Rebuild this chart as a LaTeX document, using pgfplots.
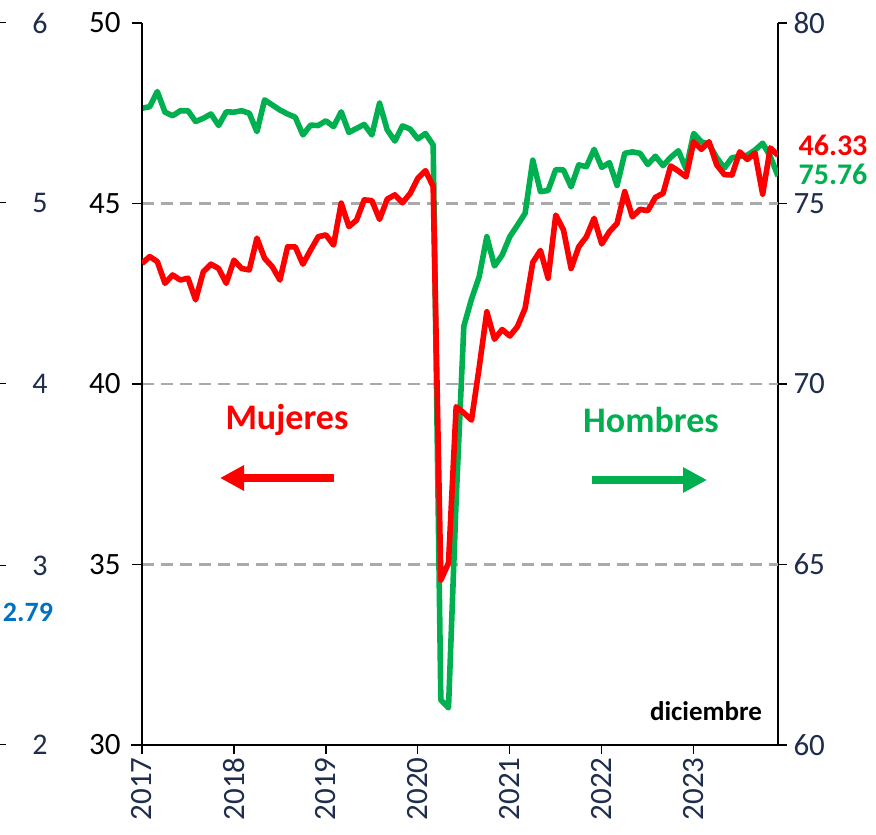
\documentclass[border=0pt]{standalone}
\usepackage{pgfplots}
\pgfplotsset{compat=1.18}
\usepackage{pgfplotstable}
\usepackage{fontspec}
\setmainfont{Carlito}
\usetikzlibrary{arrows.meta}
\definecolor{cred}{RGB}{255,0,0}
\definecolor{cgreen}{RGB}{0,176,80}
\definecolor{cnavy}{RGB}{31,45,77}
\definecolor{cblue}{RGB}{0,112,192}
\definecolor{cgrid}{RGB}{170,170,170}

\pgfplotstableread{
i m h
0 43.34 77.64
1 43.53 77.68
2 43.39 78.10
3 42.79 77.53
4 43.02 77.43
5 42.88 77.57
6 42.93 77.57
7 42.33 77.27
8 43.11 77.36
9 43.32 77.48
10 43.20 77.16
11 42.79 77.54
12 43.43 77.53
13 43.20 77.57
14 43.16 77.50
15 44.04 76.99
16 43.48 77.87
17 43.25 77.73
18 42.88 77.59
19 43.80 77.48
20 43.80 77.39
21 43.32 76.90
22 43.71 77.17
23 44.08 77.16
24 44.13 77.29
25 43.85 77.13
26 45.01 77.54
27 44.36 76.97
28 44.54 77.08
29 45.10 77.19
30 45.08 76.90
31 44.56 77.78
32 45.12 77.04
33 45.24 76.73
34 45.02 77.15
35 45.28 77.06
36 45.70 76.79
37 45.91 76.94
38 45.47 76.62
39 34.57 61.25
40 35.04 61.03
41 39.37 66.80
42 39.20 71.60
43 39.00 72.35
44 40.45 72.97
45 42.00 74.08
46 41.24 73.27
47 41.51 73.57
48 41.33 74.08
49 41.59 74.40
50 42.10 74.73
51 43.37 76.20
52 43.70 75.33
53 42.93 75.36
54 44.68 75.94
55 44.27 75.93
56 43.20 75.46
57 43.80 76.07
58 44.08 76.02
59 44.59 76.50
60 43.88 76.00
61 44.22 76.13
62 44.45 75.50
63 45.33 76.39
64 44.63 76.43
65 44.84 76.39
66 44.80 76.08
67 45.17 76.31
68 45.28 76.05
69 46.04 76.28
70 45.90 76.46
71 45.74 75.96
72 46.71 76.94
73 46.50 76.71
74 46.71 76.64
75 46.07 76.27
76 45.80 75.98
77 45.79 76.27
78 46.43 76.30
79 46.22 76.34
80 46.40 76.48
81 45.26 76.67
82 46.54 76.30
83 46.33 75.76
}\datatable

\begin{document}
\begin{tikzpicture}
\path[use as bounding box] (0pt,0pt) rectangle (876pt,835pt);
\pgfplotsset{every axis/.append style={
  at={(142pt,90pt)}, anchor=south west,
  scale only axis, width=636pt, height=722pt,
  xmin=0, xmax=83,
  tick align=outside,
  /pgf/number format/assume math mode=true,
  tick style={black, line width=1.2pt},
  axis line style={black, line width=1.6pt},
  ticklabel style={font=\fontsize{31}{31}\selectfont},
}}
% Hombres (right axis)
\begin{axis}[
  axis y line*=right, axis x line*=bottom,
  ymin=60, ymax=80, ytick={60,65,70,75,80},
  y tick label style={text=cnavy, xshift=3pt},
  major tick length=9pt,
  xtick={0,12,24,36,48,60,72},
  xticklabels={2017,2018,2019,2020,2021,2022,2023},
  x tick label style={rotate=90, anchor=east, text=cnavy, yshift=0pt},
  x axis line style={shorten <=-11pt, shorten >=-8pt},
  extra y ticks={65,70,75},
  extra y tick labels={},
  extra y tick style={grid=major, major tick length=0pt},
  grid style={cgrid, line width=2.2pt, dash pattern=on 12pt off 7pt},
]
\addplot[cgreen, line width=5.6pt, line join=round] table[x=i, y=h] {\datatable};
\end{axis}
% Mujeres (left axis)
\begin{axis}[
  axis y line*=left, hide x axis,
  ymin=30, ymax=50, ytick={30,35,40,45,50},
  y tick label style={text=black, xshift=-8pt},
  major tick length=10pt,
]
\addplot[cred, line width=5.6pt, line join=round] table[x=i, y=m] {\datatable};
\end{axis}
% annotations
\node[text=cred, font=\bfseries\fontsize{36}{36}\selectfont] at (287pt,415pt) {Mujeres};
\node[text=cgreen, font=\bfseries\fontsize{36}{36}\selectfont] at (651pt,415pt) {Hombres};
\draw[cred, line width=8pt, -{Triangle[length=24pt,width=24pt]}] (334pt,357pt) -- (220pt,357pt);
\draw[cgreen, line width=8pt, -{Triangle[length=24pt,width=24pt]}] (592pt,355pt) -- (707pt,355pt);
\node[text=black, font=\bfseries\fontsize{27}{27}\selectfont] at (706pt,124pt) {diciembre};
\node[text=cred, font=\bfseries\fontsize{30}{30}\selectfont, inner sep=0pt] at (833pt,690pt) {46.33};
\node[text=cgreen, font=\bfseries\fontsize{30}{30}\selectfont, inner sep=0pt] at (833pt,661pt) {75.76};
% partial axis of neighbouring chart
\foreach \v/\yy in {6/812,5/632,4/451,3/269,2/90}{
  \draw[black, line width=1pt] (0pt,\yy pt) -- (6pt,\yy pt);
  \node[text=cnavy, font=\fontsize{30}{30}\selectfont] at (40pt,\yy pt) {\v};
}
\node[text=cblue, font=\bfseries\fontsize{28}{28}\selectfont] at (28pt,223pt) {2.79};
\end{tikzpicture}
\end{document}
